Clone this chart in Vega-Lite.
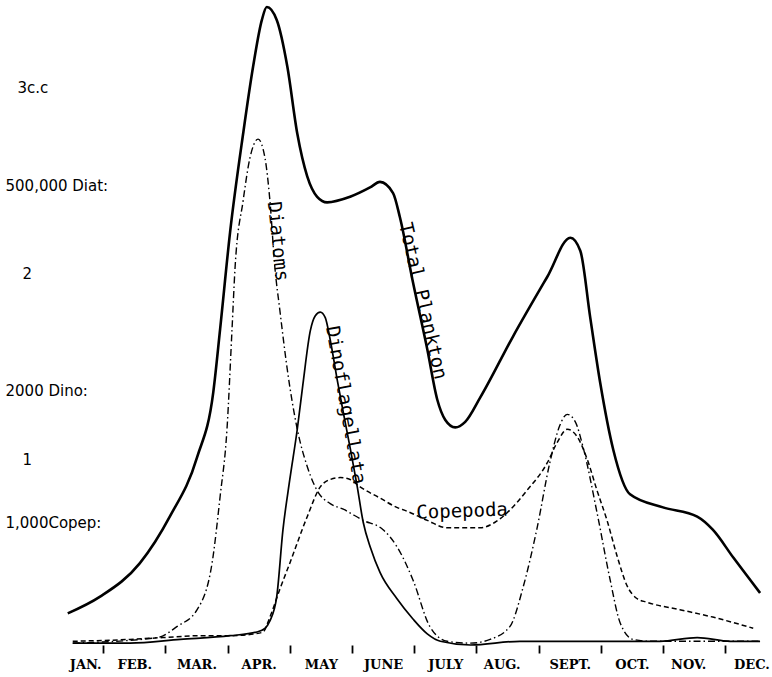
{
  "$schema": "https://vega.github.io/schema/vega-lite/v6.json",
  "width": 731,
  "height": 645,
  "autosize": {"type": "none"},
  "padding": {"left": 41, "top": 0, "right": 0, "bottom": 32},
  "background": "white",
  "config": {"view": {"stroke": null}},
  "datasets": {
    "curves": [
      {"series": "Total Plankton", "month": 0.43, "value": 0.17},
      {"series": "Total Plankton", "month": 0.95, "value": 0.26},
      {"series": "Total Plankton", "month": 1.59, "value": 0.44},
      {"series": "Total Plankton", "month": 2.07, "value": 0.69},
      {"series": "Total Plankton", "month": 2.51, "value": 1.01},
      {"series": "Total Plankton", "month": 2.77, "value": 1.36},
      {"series": "Total Plankton", "month": 2.88, "value": 1.70},
      {"series": "Total Plankton", "month": 3.04, "value": 2.22},
      {"series": "Total Plankton", "month": 3.25, "value": 2.75},
      {"series": "Total Plankton", "month": 3.41, "value": 3.11},
      {"series": "Total Plankton", "month": 3.55, "value": 3.36},
      {"series": "Total Plankton", "month": 3.63, "value": 3.43},
      {"series": "Total Plankton", "month": 3.79, "value": 3.36},
      {"series": "Total Plankton", "month": 3.96, "value": 3.11},
      {"series": "Total Plankton", "month": 4.12, "value": 2.75},
      {"series": "Total Plankton", "month": 4.28, "value": 2.52},
      {"series": "Total Plankton", "month": 4.44, "value": 2.41},
      {"series": "Total Plankton", "month": 4.60, "value": 2.38},
      {"series": "Total Plankton", "month": 4.97, "value": 2.41},
      {"series": "Total Plankton", "month": 5.29, "value": 2.46},
      {"series": "Total Plankton", "month": 5.45, "value": 2.49},
      {"series": "Total Plankton", "month": 5.66, "value": 2.43},
      {"series": "Total Plankton", "month": 5.77, "value": 2.30},
      {"series": "Total Plankton", "month": 5.98, "value": 1.95},
      {"series": "Total Plankton", "month": 6.21, "value": 1.59},
      {"series": "Total Plankton", "month": 6.37, "value": 1.32},
      {"series": "Total Plankton", "month": 6.50, "value": 1.21},
      {"series": "Total Plankton", "month": 6.66, "value": 1.17},
      {"series": "Total Plankton", "month": 6.82, "value": 1.20},
      {"series": "Total Plankton", "month": 7.06, "value": 1.33},
      {"series": "Total Plankton", "month": 7.59, "value": 1.66},
      {"series": "Total Plankton", "month": 8.14, "value": 1.98},
      {"series": "Total Plankton", "month": 8.51, "value": 2.19},
      {"series": "Total Plankton", "month": 8.67, "value": 2.12},
      {"series": "Total Plankton", "month": 8.83, "value": 1.76},
      {"series": "Total Plankton", "month": 8.99, "value": 1.41},
      {"series": "Total Plankton", "month": 9.20, "value": 1.05},
      {"series": "Total Plankton", "month": 9.47, "value": 0.81},
      {"series": "Total Plankton", "month": 10.00, "value": 0.74},
      {"series": "Total Plankton", "month": 10.55, "value": 0.69},
      {"series": "Total Plankton", "month": 10.80, "value": 0.62},
      {"series": "Total Plankton", "month": 11.13, "value": 0.47},
      {"series": "Total Plankton", "month": 11.56, "value": 0.28},

      {"series": "Diatoms", "month": 0.51, "value": 0.01},
      {"series": "Diatoms", "month": 1.87, "value": 0.04},
      {"series": "Diatoms", "month": 2.19, "value": 0.10},
      {"series": "Diatoms", "month": 2.51, "value": 0.19},
      {"series": "Diatoms", "month": 2.75, "value": 0.44},
      {"series": "Diatoms", "month": 2.88, "value": 0.80},
      {"series": "Diatoms", "month": 2.99, "value": 1.16},
      {"series": "Diatoms", "month": 3.07, "value": 1.69},
      {"series": "Diatoms", "month": 3.12, "value": 2.03},
      {"series": "Diatoms", "month": 3.25, "value": 2.39},
      {"series": "Diatoms", "month": 3.36, "value": 2.62},
      {"series": "Diatoms", "month": 3.49, "value": 2.72},
      {"series": "Diatoms", "month": 3.60, "value": 2.62},
      {"series": "Diatoms", "month": 3.68, "value": 2.39},
      {"series": "Diatoms", "month": 3.76, "value": 2.03},
      {"series": "Diatoms", "month": 3.84, "value": 1.80},
      {"series": "Diatoms", "month": 3.96, "value": 1.48},
      {"series": "Diatoms", "month": 4.12, "value": 1.16},
      {"series": "Diatoms", "month": 4.28, "value": 0.96},
      {"series": "Diatoms", "month": 4.44, "value": 0.83},
      {"series": "Diatoms", "month": 4.65, "value": 0.76},
      {"series": "Diatoms", "month": 4.86, "value": 0.73},
      {"series": "Diatoms", "month": 5.18, "value": 0.67},
      {"series": "Diatoms", "month": 5.50, "value": 0.62},
      {"series": "Diatoms", "month": 5.72, "value": 0.53},
      {"series": "Diatoms", "month": 5.98, "value": 0.35},
      {"series": "Diatoms", "month": 6.25, "value": 0.10},
      {"series": "Diatoms", "month": 6.53, "value": 0.02},
      {"series": "Diatoms", "month": 6.90, "value": 0.01},
      {"series": "Diatoms", "month": 7.22, "value": 0.03},
      {"series": "Diatoms", "month": 7.54, "value": 0.10},
      {"series": "Diatoms", "month": 7.75, "value": 0.31},
      {"series": "Diatoms", "month": 7.97, "value": 0.62},
      {"series": "Diatoms", "month": 8.18, "value": 0.98},
      {"series": "Diatoms", "month": 8.34, "value": 1.18},
      {"series": "Diatoms", "month": 8.46, "value": 1.24},
      {"series": "Diatoms", "month": 8.59, "value": 1.20},
      {"series": "Diatoms", "month": 8.71, "value": 1.07},
      {"series": "Diatoms", "month": 8.94, "value": 0.71},
      {"series": "Diatoms", "month": 9.15, "value": 0.35},
      {"series": "Diatoms", "month": 9.31, "value": 0.12},
      {"series": "Diatoms", "month": 9.52, "value": 0.03},
      {"series": "Diatoms", "month": 9.79, "value": 0.02},
      {"series": "Diatoms", "month": 10.60, "value": 0.02},
      {"series": "Diatoms", "month": 11.56, "value": 0.02},

      {"series": "Dinoflagellata", "month": 0.51, "value": 0.01},
      {"series": "Dinoflagellata", "month": 1.43, "value": 0.01},
      {"series": "Dinoflagellata", "month": 2.24, "value": 0.03},
      {"series": "Dinoflagellata", "month": 3.04, "value": 0.05},
      {"series": "Dinoflagellata", "month": 3.47, "value": 0.07},
      {"series": "Dinoflagellata", "month": 3.60, "value": 0.09},
      {"series": "Dinoflagellata", "month": 3.68, "value": 0.13},
      {"series": "Dinoflagellata", "month": 3.79, "value": 0.26},
      {"series": "Dinoflagellata", "month": 3.89, "value": 0.62},
      {"series": "Dinoflagellata", "month": 4.00, "value": 0.89},
      {"series": "Dinoflagellata", "month": 4.12, "value": 1.16},
      {"series": "Dinoflagellata", "month": 4.21, "value": 1.40},
      {"series": "Dinoflagellata", "month": 4.33, "value": 1.69},
      {"series": "Dinoflagellata", "month": 4.41, "value": 1.77},
      {"series": "Dinoflagellata", "month": 4.49, "value": 1.79},
      {"series": "Dinoflagellata", "month": 4.57, "value": 1.76},
      {"series": "Dinoflagellata", "month": 4.65, "value": 1.64},
      {"series": "Dinoflagellata", "month": 4.76, "value": 1.43},
      {"series": "Dinoflagellata", "month": 4.86, "value": 1.25},
      {"series": "Dinoflagellata", "month": 4.97, "value": 1.06},
      {"series": "Dinoflagellata", "month": 5.08, "value": 0.86},
      {"series": "Dinoflagellata", "month": 5.18, "value": 0.66},
      {"series": "Dinoflagellata", "month": 5.30, "value": 0.52},
      {"series": "Dinoflagellata", "month": 5.45, "value": 0.39},
      {"series": "Dinoflagellata", "month": 5.72, "value": 0.25},
      {"series": "Dinoflagellata", "month": 5.98, "value": 0.14},
      {"series": "Dinoflagellata", "month": 6.21, "value": 0.06},
      {"series": "Dinoflagellata", "month": 6.42, "value": 0.02},
      {"series": "Dinoflagellata", "month": 6.90, "value": 0.00},
      {"series": "Dinoflagellata", "month": 7.70, "value": 0.02},
      {"series": "Dinoflagellata", "month": 8.99, "value": 0.02},
      {"series": "Dinoflagellata", "month": 9.95, "value": 0.02},
      {"series": "Dinoflagellata", "month": 10.55, "value": 0.04},
      {"series": "Dinoflagellata", "month": 11.08, "value": 0.02},
      {"series": "Dinoflagellata", "month": 11.56, "value": 0.02},

      {"series": "Copepoda", "month": 0.51, "value": 0.02},
      {"series": "Copepoda", "month": 1.43, "value": 0.03},
      {"series": "Copepoda", "month": 1.96, "value": 0.04},
      {"series": "Copepoda", "month": 2.56, "value": 0.05},
      {"series": "Copepoda", "month": 3.04, "value": 0.05},
      {"series": "Copepoda", "month": 3.44, "value": 0.06},
      {"series": "Copepoda", "month": 3.57, "value": 0.07},
      {"series": "Copepoda", "month": 3.68, "value": 0.15},
      {"series": "Copepoda", "month": 3.84, "value": 0.30},
      {"series": "Copepoda", "month": 4.00, "value": 0.44},
      {"series": "Copepoda", "month": 4.28, "value": 0.69},
      {"series": "Copepoda", "month": 4.49, "value": 0.85},
      {"series": "Copepoda", "month": 4.65, "value": 0.89},
      {"series": "Copepoda", "month": 4.81, "value": 0.90},
      {"series": "Copepoda", "month": 4.97, "value": 0.89},
      {"series": "Copepoda", "month": 5.13, "value": 0.85},
      {"series": "Copepoda", "month": 5.45, "value": 0.79},
      {"series": "Copepoda", "month": 5.72, "value": 0.74},
      {"series": "Copepoda", "month": 5.88, "value": 0.72},
      {"series": "Copepoda", "month": 6.21, "value": 0.67},
      {"series": "Copepoda", "month": 6.53, "value": 0.63},
      {"series": "Copepoda", "month": 6.82, "value": 0.63},
      {"series": "Copepoda", "month": 7.06, "value": 0.63},
      {"series": "Copepoda", "month": 7.30, "value": 0.66},
      {"series": "Copepoda", "month": 7.49, "value": 0.71},
      {"series": "Copepoda", "month": 7.81, "value": 0.83},
      {"series": "Copepoda", "month": 8.14, "value": 0.98},
      {"series": "Copepoda", "month": 8.30, "value": 1.09},
      {"series": "Copepoda", "month": 8.46, "value": 1.16},
      {"series": "Copepoda", "month": 8.62, "value": 1.12},
      {"series": "Copepoda", "month": 8.78, "value": 1.00},
      {"series": "Copepoda", "month": 8.94, "value": 0.83},
      {"series": "Copepoda", "month": 9.10, "value": 0.67},
      {"series": "Copepoda", "month": 9.26, "value": 0.48},
      {"series": "Copepoda", "month": 9.42, "value": 0.32},
      {"series": "Copepoda", "month": 9.58, "value": 0.25},
      {"series": "Copepoda", "month": 9.74, "value": 0.23},
      {"series": "Copepoda", "month": 10.27, "value": 0.19},
      {"series": "Copepoda", "month": 10.80, "value": 0.15},
      {"series": "Copepoda", "month": 11.45, "value": 0.09}
    ]
  },
  "data": {"name": "curves"},
  "encoding": {
    "x": {
      "field": "month",
      "type": "quantitative",
      "scale": {"domain": [0, 11.752], "nice": false, "zero": false},
      "axis": {
        "title": null,
        "values": [0.5, 1.5, 2.5, 3.5, 4.5, 5.5, 6.5, 7.5, 8.5, 9.5, 10.5, 11.5],
        "labelExpr": "['JAN.','FEB.','MAR.','APR.','MAY','JUNE','JULY','AUG.','SEPT.','OCT.','NOV.','DEC.'][floor(datum.value)]",
        "domain": false,
        "grid": false,
        "tickSize": 8,
        "tickWidth": 1.8,
        "tickColor": "black",
        "tickOffset": 31.1,
        "labelOffset": {
          "condition": [
            {"test": "datum.value == 0.5", "value": -18},
            {"test": "datum.value == 7.5 || datum.value == 10.5", "value": -37},
            {"test": "datum.value == 11.5", "value": -36}
          ],
          "value": -31.1
        },
        "labelPadding": 5,
        "labelFont": "DejaVu Serif",
        "labelFontSize": 13,
        "labelFontWeight": "bold",
        "labelColor": "black",
        "labelFlush": false,
        "labelOverlap": false,
        "labelBound": false
      }
    },
    "y": {
      "field": "value",
      "type": "quantitative",
      "scale": {"domain": [0, 3.468], "nice": false},
      "axis": {
        "title": null,
        "values": [3, 2.47, 2, 1.37, 1, 0.66],
        "labelExpr": "datum.value == 3 ? '3c.c' : datum.value == 2.47 ? '500,000 Diat:' : datum.value == 2 ? '2' : datum.value == 1.37 ? '2000 Dino:' : datum.value == 1 ? '1' : '1,000Copep:'",
        "domain": false,
        "ticks": false,
        "tickSize": 0,
        "grid": false,
        "labelAlign": "left",
        "labelBaseline": "middle",
        "labelPadding": {
          "condition": [
            {"test": "datum.value == 3", "value": 24},
            {"test": "datum.value == 2 || datum.value == 1", "value": 19}
          ],
          "value": 36
        },
        "labelFont": "DejaVu Sans",
        "labelFontSize": 15,
        "labelColor": "black",
        "labelOverlap": false,
        "labelBound": false,
        "labelFlush": false
      }
    }
  },
  "layer": [
    {
      "transform": [{"filter": "datum.series == 'Total Plankton'"}],
      "mark": {"type": "line", "interpolate": "monotone", "color": "black", "strokeWidth": 2.6}
    },
    {
      "transform": [{"filter": "datum.series == 'Diatoms'"}],
      "mark": {"type": "line", "interpolate": "monotone", "color": "black", "strokeWidth": 1.4, "strokeDash": [7, 3, 1.5, 3]}
    },
    {
      "transform": [{"filter": "datum.series == 'Dinoflagellata'"}],
      "mark": {"type": "line", "interpolate": "monotone", "color": "black", "strokeWidth": 1.7}
    },
    {
      "transform": [{"filter": "datum.series == 'Copepoda'"}],
      "mark": {"type": "line", "interpolate": "monotone", "color": "black", "strokeWidth": 1.5, "strokeDash": [5, 3]}
    },
    {
      "data": {"values": [{"label": "Diatoms", "month": 3.81, "value": 2.17}]},
      "mark": {"type": "text", "angle": 84, "align": "center", "baseline": "middle", "font": "DejaVu Sans Mono", "fontSize": 19, "color": "black"},
      "encoding": {"text": {"field": "label"}}
    },
    {
      "data": {"values": [{"label": "Total Plankton", "month": 6.14, "value": 1.85}]},
      "mark": {"type": "text", "angle": 77, "align": "center", "baseline": "middle", "font": "DejaVu Sans Mono", "fontSize": 19, "color": "black"},
      "encoding": {"text": {"field": "label"}}
    },
    {
      "data": {"values": [{"label": "Dinoflagellata", "month": 4.90, "value": 1.29}]},
      "mark": {"type": "text", "angle": 80, "align": "center", "baseline": "middle", "font": "DejaVu Sans Mono", "fontSize": 19, "color": "black"},
      "encoding": {"text": {"field": "label"}}
    },
    {
      "data": {"values": [{"label": "Copepoda", "month": 6.77, "value": 0.72}]},
      "mark": {"type": "text", "angle": -2, "align": "center", "baseline": "middle", "font": "DejaVu Sans Mono", "fontSize": 19, "color": "black"},
      "encoding": {"text": {"field": "label"}}
    }
  ]
}
